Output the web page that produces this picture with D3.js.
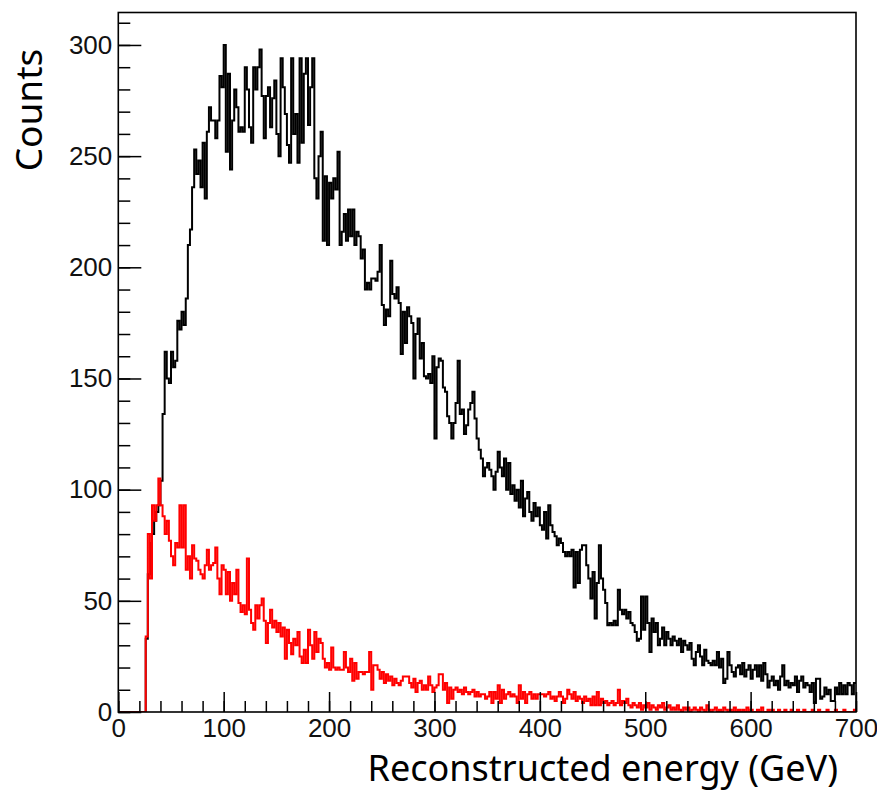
<!DOCTYPE html>
<html>
<head>
<meta charset="utf-8">
<script src="https://cdn.jsdelivr.net/npm/d3@7/dist/d3.min.js"></script>
<style>
  html, body { margin: 0; padding: 0; background: #fff; }
  svg { display: block; }
</style>
</head>
<body>
<svg id="chart" width="877" height="792"></svg>
<script>
// ---- Data (2 GeV bins from 0 to 700 GeV) ----
const binWidth = 2;
const xDomain = [0, 700];
const yDomain = [0, 314.6];

const allEvents = [
  0,0,0,0,0,0,0,0,0,0,
  0,0,0,33,62,76,80,86,90,93,
  104,134,162,150,148,162,155,158,176,172,
  180,174,186,210,217,236,253,242,248,236,
  256,231,261,272,266,266,258,266,286,281,
  300,252,287,244,266,280,272,261,263,261,
  290,280,263,256,290,280,290,298,277,258,
  277,281,263,276,284,260,250,294,281,269,
  255,247,294,260,269,247,294,256,287,294,
  264,281,294,240,231,250,261,212,241,210,
  238,231,240,235,252,210,216,224,212,226,
  214,226,210,216,214,204,208,190,193,190,
  195,195,194,198,210,183,174,181,178,203,
  188,186,191,184,161,180,166,182,178,175,
  150,170,177,159,166,151,150,152,148,160,
  123,155,159,158,146,144,133,130,123,130,
  139,158,134,136,125,129,136,139,144,132,
  123,118,114,106,110,112,109,106,100,108,
  117,110,106,114,100,112,98,102,95,100,
  92,104,88,96,99,90,86,94,88,92,
  84,82,90,78,93,84,81,79,75,78,
  76,72,70,72,70,73,56,72,58,73,
  75,75,66,60,51,63,42,58,75,60,
  55,49,39,40,39,41,39,55,46,44,
  46,42,45,40,39,36,32,33,52,37,
  52,40,27,42,36,40,30,33,38,30,
  36,33,30,34,32,30,33,27,32,30,
  28,31,24,21,27,30,25,21,28,23,
  22,21,23,21,27,20,24,13,15,27,
  21,18,16,20,21,17,22,16,19,21,
  15,19,21,16,21,14,22,17,11,14,
  16,12,14,10,16,21,12,14,11,13,
  12,16,9,14,16,11,13,12,9,13,
  4,15,15,6,7,11,8,10,5,5,
  11,8,13,8,12,8,13,12,8,13
];

const selectedEvents = [
  0,0,0,0,0,0,0,0,0,0,
  0,0,0,34,80,60,93,86,93,105,
  93,88,80,86,77,70,66,76,74,93,
  74,93,64,70,60,75,69,68,64,62,
  60,66,73,64,66,67,74,60,53,66,
  64,53,63,50,58,53,64,49,45,48,
  44,69,46,40,37,48,42,48,51,41,
  31,40,46,38,41,36,40,34,38,24,
  37,31,26,33,30,36,25,22,28,22,
  37,30,24,36,27,33,31,24,20,22,
  19,29,20,19,20,19,19,27,20,18,
  24,14,22,15,18,18,17,18,18,27,
  10,21,21,19,15,18,13,17,14,16,
  12,15,13,12,14,16,16,16,13,11,
  15,9,13,14,10,12,10,16,12,9,
  11,12,17,17,10,13,4,11,6,10,
  11,9,10,8,11,9,8,9,10,7,
  9,7,8,8,6,7,9,4,9,6,
  12,4,10,6,8,9,7,8,7,4,
  12,6,9,4,8,9,6,8,6,8,
  8,8,7,8,9,6,7,5,7,9,
  7,4,6,10,8,6,9,5,7,6,
  4,7,5,6,3,7,3,9,3,6,
  4,5,3,4,5,3,4,10,3,5,
  4,6,3,2,4,3,2,4,1,3,
  2,4,1,3,2,1,3,2,4,1,
  2,3,1,2,1,3,1,0,2,1,
  2,0,1,2,1,0,2,1,0,3,
  1,0,1,2,0,1,0,2,1,0,
  1,0,2,0,1,0,1,0,2,0,
  1,0,0,1,0,2,0,0,1,0,
  1,0,0,1,0,0,1,0,0,1,
  0,0,1,0,0,1,0,0,0,1,
  0,0,1,0,0,0,1,0,0,0,
  1,0,0,0,1,0,0,0,0,1
];

const xMajorTicks = [0, 100, 200, 300, 400, 500, 600, 700];
const xMinorTicks = d3.range(0, 701, 20);
const yMajorTicks = [0, 50, 100, 150, 200, 250, 300];
const yMinorTicks = d3.range(0, 311, 10);

const xTitle = "Reconstructed energy (GeV)";
const yTitle = "Counts";

// ---- Layout ----
const frame = { left: 118.3, right: 856, top: 12.5, bottom: 712 };
const svg = d3.select("#chart");

const x = d3.scaleLinear().domain(xDomain).range([frame.left, frame.right]);
const y = d3.scaleLinear().domain(yDomain).range([frame.bottom, frame.top]);

svg.append("rect").attr("width", 877).attr("height", 792).attr("fill", "#fff");

svg.append("defs").append("clipPath").attr("id", "clip")
  .append("rect")
  .attr("x", frame.left).attr("y", frame.top)
  .attr("width", frame.right - frame.left).attr("height", frame.bottom - frame.top);

function toSteps(vals) {
  const pts = vals.map((v, i) => [i * binWidth, v]);
  pts.push([vals.length * binWidth, vals[vals.length - 1]]);
  return pts;
}
const stepLine = d3.line().x(d => x(d[0])).y(d => y(d[1])).curve(d3.curveStepAfter);

const plot = svg.append("g").attr("clip-path", "url(#clip)");
plot.append("path").datum(toSteps(allEvents))
  .attr("d", stepLine).attr("fill", "none")
  .attr("stroke", "#000").attr("stroke-width", 2);
plot.append("path").datum(toSteps(selectedEvents))
  .attr("d", stepLine).attr("fill", "none")
  .attr("stroke", "#ff0000").attr("stroke-width", 2);

// ---- Axes (ticks inside the frame, ROOT style) ----
const tickFont = "'Liberation Sans', Arial, Helvetica, sans-serif";

const yMinor = svg.append("g").attr("transform", `translate(${frame.left},0)`)
  .call(d3.axisLeft(y).tickValues(yMinorTicks).tickSizeInner(-12).tickSizeOuter(0).tickFormat(""));
const yMajor = svg.append("g").attr("transform", `translate(${frame.left},0)`)
  .call(d3.axisLeft(y).tickValues(yMajorTicks).tickSizeInner(-23).tickSizeOuter(0).tickPadding(6));

const xMinor = svg.append("g").attr("transform", `translate(0,${frame.bottom})`)
  .call(d3.axisBottom(x).tickValues(xMinorTicks).tickSizeInner(-11).tickSizeOuter(0).tickFormat(""));
const xMajor = svg.append("g").attr("transform", `translate(0,${frame.bottom})`)
  .call(d3.axisBottom(x).tickValues(xMajorTicks).tickSizeInner(-20).tickSizeOuter(0).tickPadding(7));

[yMinor, yMajor, xMinor, xMajor].forEach(g => {
  g.select(".domain").remove();
  g.selectAll(".tick line").attr("stroke", "#000").attr("stroke-width", 1.5);
  g.selectAll("text").attr("font-family", tickFont).attr("font-size", 26).attr("fill", "#111");
});

// ---- Frame ----
svg.append("rect")
  .attr("x", frame.left).attr("y", frame.top)
  .attr("width", frame.right - frame.left).attr("height", frame.bottom - frame.top)
  .attr("fill", "none").attr("stroke", "#000").attr("stroke-width", 1.6);

// ---- Titles ----
const titleFont = "'Noto Sans', 'Open Sans', sans-serif";
svg.append("text")
  .attr("x", 838).attr("y", 781)
  .attr("text-anchor", "end")
  .attr("font-family", titleFont).attr("font-size", 36).attr("fill", "#000")
  .text(xTitle);

svg.append("text")
  .attr("transform", "translate(42,110) rotate(-90)")
  .attr("text-anchor", "middle")
  .attr("font-family", titleFont).attr("font-size", 37).attr("fill", "#000")
  .text(yTitle);
</script>
</body>
</html>
